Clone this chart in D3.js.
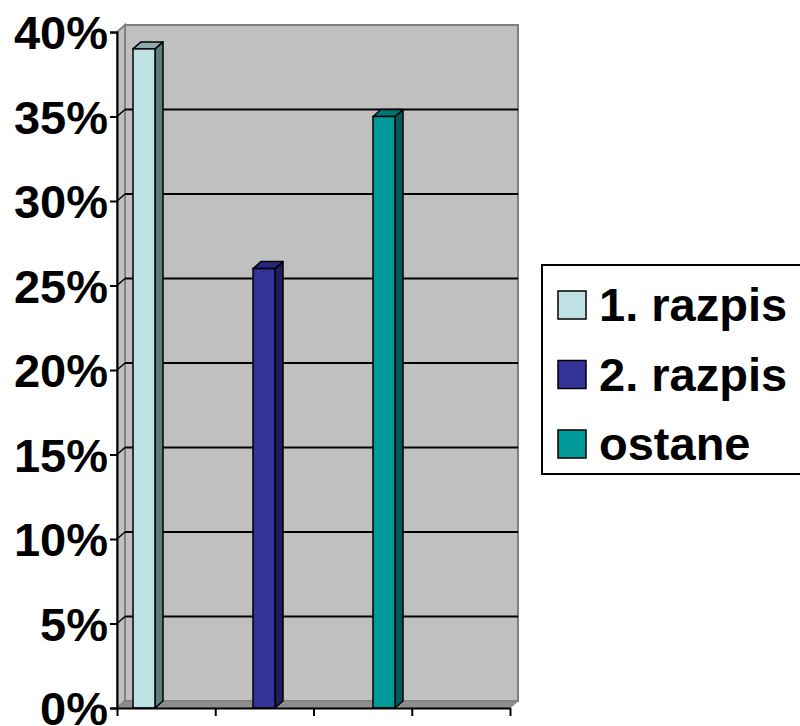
<!DOCTYPE html>
<html>
<head>
<meta charset="utf-8">
<script src="https://cdn.jsdelivr.net/npm/d3@7"></script>
<style>
  html, body { margin: 0; padding: 0; background: #fff; }
  svg { display: block; }
</style>
</head>
<body>
<svg id="chart" width="800" height="726"></svg>
<script>
// ---- data ----
const series = ["1. razpis", "2. razpis", "ostane"];
const values = [0.39, 0.26, 0.35];
const yTicks = [0, 0.05, 0.10, 0.15, 0.20, 0.25, 0.30, 0.35, 0.40];
const xTickCount = 4;

// ---- styles ----
const frontColors = ["#BFE1E4", "#333399", "#009999"];
const sideColors  = ["#5E7C7E", "#1E1E5C", "#005858"];
const topColors   = ["#8DAAAC", "#28287A", "#007575"];
const FONT = "'Liberation Sans', Arial, sans-serif";

const svg = d3.select("#chart");

// ---- geometry ----
const axisX = 117;
const floorY = 708;
const dx = 8, dy = -7;           // 3D depth offset
const plotRight = 510;
const y = d3.scaleLinear().domain([0, 0.4]).range([floorY, 32]);
const xTick = d3.scaleLinear().domain([0, xTickCount]).range([axisX, plotRight]);
const xc = d3.scalePoint().domain(series).range([144, 384]);
const barW = 22;

const g = svg.append("g");

// back wall
g.append("rect")
  .attr("x", axisX + dx).attr("y", y(0.4) + dy)
  .attr("width", plotRight - axisX).attr("height", y(0) - y(0.4))
  .attr("fill", "#C0C0C0").attr("stroke", "#808080").attr("stroke-width", 2);

// side wall
g.append("polygon")
  .attr("points", [[axisX, y(0.4)], [axisX + dx, y(0.4) + dy], [axisX + dx, y(0) + dy], [axisX, y(0)]].join(" "))
  .attr("fill", "#C0C0C0").attr("stroke", "#808080").attr("stroke-width", 2);

// floor
g.append("polygon")
  .attr("points", [[axisX, y(0)], [axisX + dx, y(0) + dy], [plotRight + dx, y(0) + dy], [plotRight, y(0)]].join(" "))
  .attr("fill", "#8E8E8E").attr("stroke", "#808080").attr("stroke-width", 1);

// gridlines
const grid = yTicks.filter(t => t > 0 && t < 0.4);
g.selectAll(".grid").data(grid).join("line")
  .attr("x1", axisX + dx).attr("x2", plotRight + dx)
  .attr("y1", d => y(d) + dy).attr("y2", d => y(d) + dy)
  .attr("stroke", "#000").attr("stroke-width", 2);
g.selectAll(".gridside").data(grid).join("line")
  .attr("x1", axisX).attr("x2", axisX + dx)
  .attr("y1", d => y(d)).attr("y2", d => y(d) + dy)
  .attr("stroke", "#000").attr("stroke-width", 1.5);

// bars
const bars = g.selectAll(".bar").data(series.map((s, i) => ({ s, v: values[i], i }))).join("g");
bars.each(function(d) {
  const gg = d3.select(this);
  const x0 = xc(d.s) - barW / 2, x1 = x0 + barW;
  const yt = y(d.v), yb = y(0);
  gg.append("polygon")
    .attr("points", [[x1, yt], [x1 + dx, yt + dy], [x1 + dx, yb + dy], [x1, yb]].join(" "))
    .attr("fill", sideColors[d.i]).attr("stroke", "#000").attr("stroke-width", 1.5).attr("stroke-linejoin", "round");
  gg.append("polygon")
    .attr("points", [[x0, yt], [x0 + dx, yt + dy], [x1 + dx, yt + dy], [x1, yt]].join(" "))
    .attr("fill", topColors[d.i]).attr("stroke", "#000").attr("stroke-width", 1.5).attr("stroke-linejoin", "round");
  gg.append("rect")
    .attr("x", x0).attr("y", yt).attr("width", barW).attr("height", yb - yt)
    .attr("fill", frontColors[d.i]).attr("stroke", "#000").attr("stroke-width", 1.5);
});

// y axis
const yAxis = g.append("g").attr("transform", `translate(${axisX},0)`)
  .call(d3.axisLeft(y).tickValues(yTicks).tickFormat(d3.format(".0%")).tickSize(7).tickPadding(2));
yAxis.select(".domain").attr("stroke", "#000").attr("stroke-width", 2);
yAxis.selectAll(".tick line").attr("stroke", "#000").attr("stroke-width", 2);
yAxis.selectAll(".tick text")
  .attr("font-family", FONT).attr("font-weight", "bold").attr("font-size", 47)
  .attr("fill", "#000").attr("dy", "0.36em");

// x axis
const xAxis = g.append("g").attr("transform", `translate(0,${floorY})`)
  .call(d3.axisBottom(xTick).ticks(xTickCount).tickFormat("").tickSize(8).tickSizeOuter(0));
xAxis.select(".domain").attr("stroke", "#000").attr("stroke-width", 2);
xAxis.selectAll(".tick line").attr("stroke", "#000").attr("stroke-width", 2);

// legend
const lg = svg.append("g");
lg.append("rect").attr("x", 542).attr("y", 265).attr("width", 300).attr("height", 209)
  .attr("fill", "#fff").attr("stroke", "#000").attr("stroke-width", 2);
const rowY = d3.scalePoint().domain(series).range([305, 444]);
series.forEach((s, i) => {
  lg.append("rect").attr("x", 558).attr("y", rowY(s) - 14).attr("width", 28).attr("height", 28)
    .attr("fill", frontColors[i]).attr("stroke", "#000").attr("stroke-width", 1.5);
  lg.append("text").attr("x", 599).attr("y", rowY(s) + 16)
    .attr("font-family", FONT).attr("font-weight", "bold").attr("font-size", 47)
    .attr("fill", "#000").text(s);
});
</script>
</body>
</html>
